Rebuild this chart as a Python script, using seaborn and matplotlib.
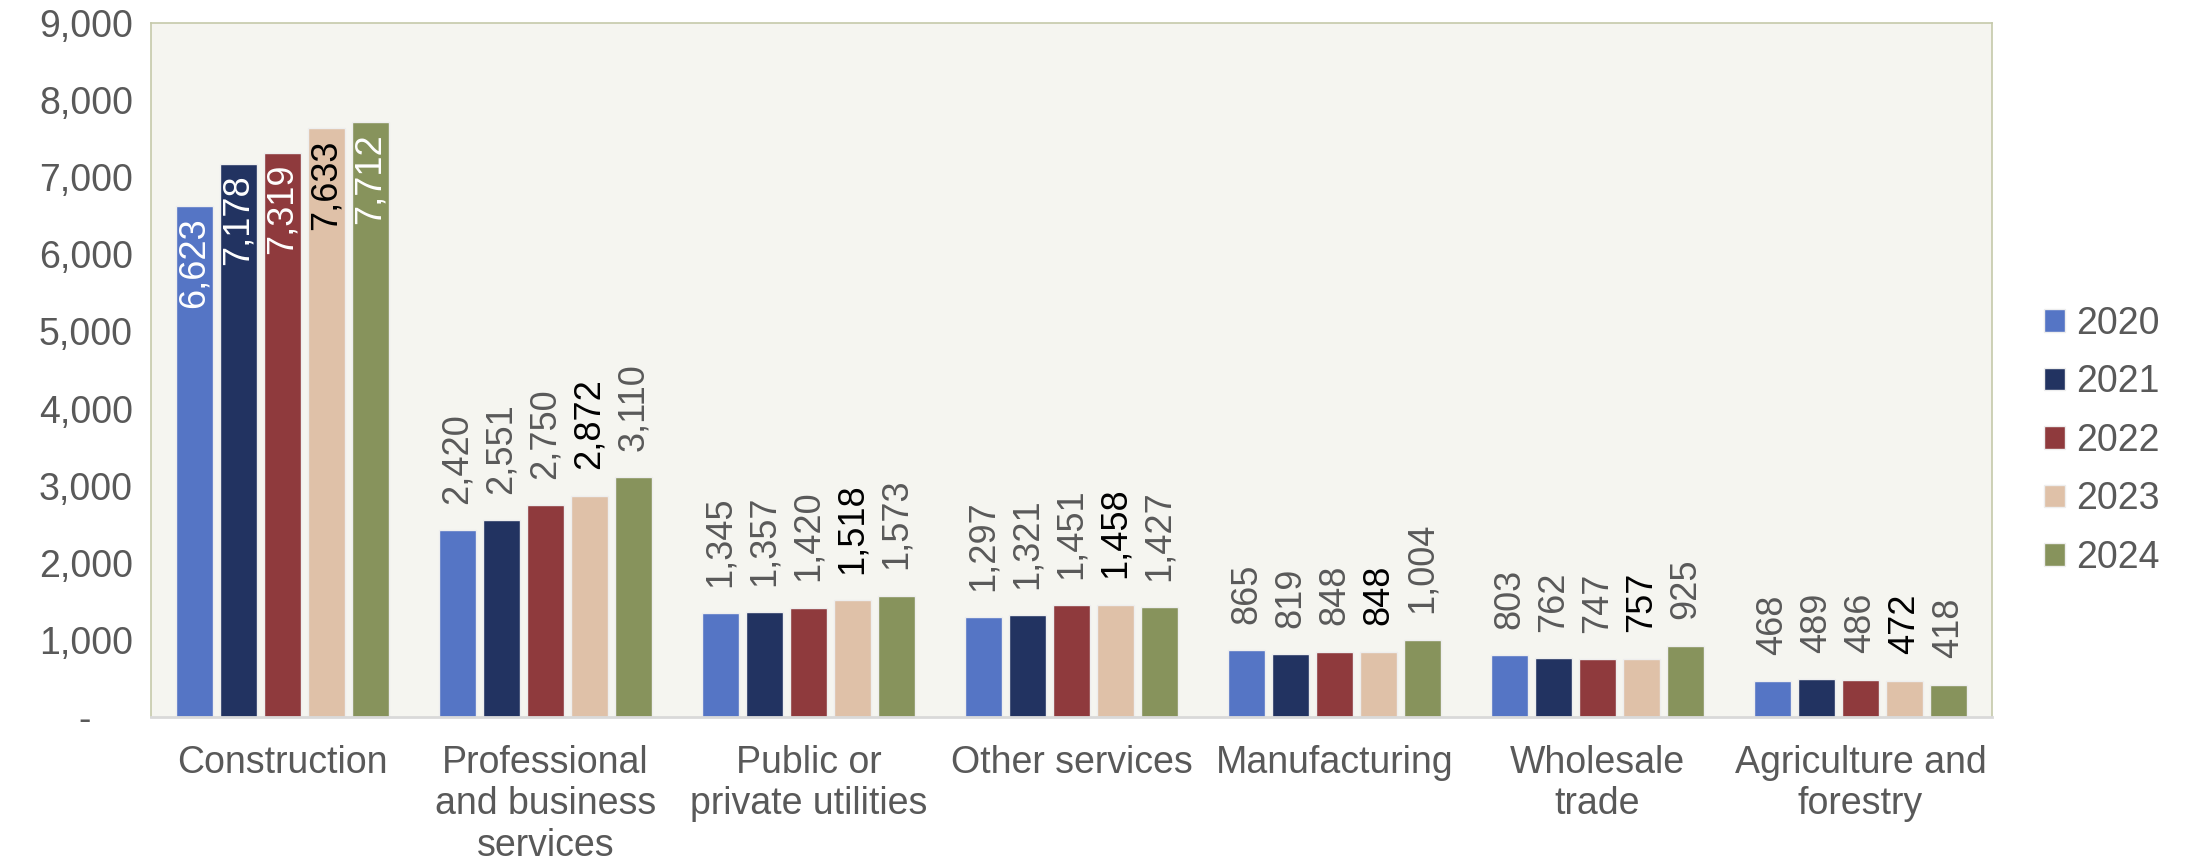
import pandas as pd
import numpy as np
import matplotlib.pyplot as plt
import seaborn as sns

sns.set_style("white")
plt.rcParams['font.family'] = ['Liberation Sans', 'DejaVu Sans']

categories = ['Construction', 'Professional\nand business\nservices', 'Public or\nprivate utilities',
              'Other services', 'Manufacturing', 'Wholesale\ntrade', 'Agriculture and\nforestry']
years = ['2020', '2021', '2022', '2023', '2024']
v2020 = [6623, 2420, 1345, 1297, 865, 803, 468]
v2021 = [7178, 2551, 1357, 1321, 819, 762, 489]
v2022 = [7319, 2750, 1420, 1451, 848, 747, 486]
v2023 = [7633, 2872, 1518, 1458, 848, 757, 472]
v2024 = [7712, 3110, 1573, 1427, 1004, 925, 418]
colors = ['#5575c5', '#223361', '#8f3a3d', '#dfc1a8', '#87935c']
label_colors = ['#595959', '#595959', '#595959', '#000000', '#595959']
inside_colors = ['white', 'white', 'white', '#000000', 'white']

rows = []
for yr, vals in zip(years, [v2020, v2021, v2022, v2023, v2024]):
    for cat, v in zip(categories, vals):
        rows.append({'category': cat, 'year': yr, 'value': v})
df = pd.DataFrame(rows)

fig = plt.figure(figsize=(21.85, 8.65), dpi=100)
ax = fig.add_axes([0.0691, 0.171, 0.8426, 0.8024])
ax.set_facecolor('#f5f5f0')

sns.barplot(data=df, x='category', y='value', hue='year', palette=colors, saturation=1,
            width=0.836, gap=0.16, edgecolor='#eeeeee', linewidth=1, ax=ax)

# value labels: Construction inside the bar end, the rest above
for i, cont in enumerate(ax.containers):
    for j, bar in enumerate(cont):
        h = bar.get_height()
        x = bar.get_x() + bar.get_width() / 2
        if j == 0:
            ax.annotate(f'{h:,.0f}', (x, h), xytext=(0, -8), textcoords='offset points',
                        rotation=90, ha='center', va='top', fontsize=26, color=inside_colors[i])
        else:
            ax.annotate(f'{h:,.0f}', (x, h), xytext=(0, 19), textcoords='offset points',
                        rotation=90, ha='center', va='bottom', fontsize=26, color=label_colors[i])

ax.set_ylim(0, 9000)
ax.set_xlim(-0.5, 6.5)
yt = np.arange(0, 9001, 1000)
ax.set_yticks(yt)
ax.set_yticklabels(['-    '] + [f'{v:,}' for v in yt[1:]])
ax.tick_params(axis='y', length=0, pad=13, labelsize=27, labelcolor='#595959')
ax.tick_params(axis='x', length=0, pad=20, labelsize=27, labelcolor='#595959')
for lab in ax.get_xticklabels():
    lab.set_linespacing(1.2)
ax.set_xlabel('')
ax.set_ylabel('')

for side in ['top', 'left', 'right']:
    ax.spines[side].set_color('#c5c9aa')
    ax.spines[side].set_linewidth(1.2)
ax.spines['bottom'].set_color('#d9d9d9')
ax.spines['bottom'].set_linewidth(2)

ax.legend(loc='center left', bbox_to_anchor=(1.01, 0.398), frameon=False, fontsize=27,
          handlelength=0.55, handleheight=0.55, handletextpad=0.3, labelspacing=0.6,
          labelcolor='#595959')

fig.savefig('out.png', dpi=100)
